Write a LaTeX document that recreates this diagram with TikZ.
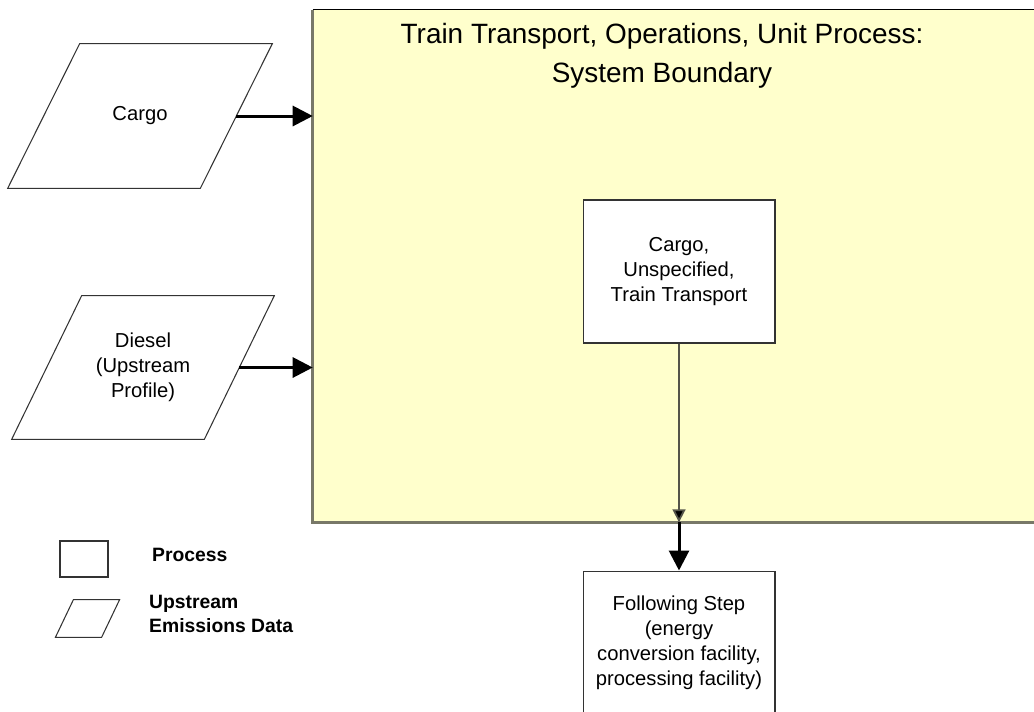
\documentclass[tikz,border=0pt]{standalone}
\usepackage{fontspec}
\setmainfont{Liberation Sans}
\usepackage{tikz}
\usetikzlibrary{arrows.meta}

\definecolor{boundfill}{RGB}{255,255,204}
\definecolor{boundedge}{RGB}{120,120,104}

\begin{document}
\begin{tikzpicture}[x=0.02cm,y=-0.02cm]
        \tikzstyle{every node} = [font=\fontsize{11.5}{14.2}\selectfont, align=center]
        \tikzstyle{proc} = [rectangle, draw=black!80, fill=white, line width=0.6pt,
                            inner sep=0pt, minimum width=3.84cm, minimum height=2.86cm]
        % upstream data: the node is the midline box, the slanted outline is drawn below
        \tikzstyle{upstream} = [rectangle, inner sep=0pt, minimum width=3.84cm, minimum height=2.88cm]
        \tikzstyle{outline} = [draw=black!80, line width=0.6pt, line join=miter]
        \tikzstyle{flow} = [line width=1.7pt, -{Triangle[length=0.4cm,width=0.4cm]}]
        \tikzstyle{legendtext} = [font=\bfseries\fontsize{11}{13.5}\selectfont, align=left, anchor=west]

        \useasboundingbox (0,0) rectangle (1034,711);
        \clip (0,0) rectangle (1034,711);

        % system boundary
        \node[rectangle, fill=boundfill, inner sep=0pt, minimum width=14.74cm, minimum height=10.24cm]
            (boundary) at (681.5,266) {};
        \draw[black, line width=0.8pt] (boundary.north west) -- (boundary.north east);
        \draw[boundedge, line width=1.6pt] (boundary.north west) -- (boundary.south west) -- (boundary.south east);
        \node[font=\fontsize{15.9}{22.2}\selectfont, inner sep=0pt] (title) at (662,56)
            {Train Transport, Operations, Unit Process:\\System Boundary};

        % inputs
        \node[upstream] (cargo) at (140,116) {Cargo};
        \node[upstream, minimum height=2.86cm] (diesel) at (143,367.5) {Diesel\\(Upstream\\Profile)};

        % processes
        \node[proc] (train) at (679,271.5) {Cargo,\\Unspecified,\\Train Transport};
        \node[proc] (next) at (679,642.5) {Following Step\\(energy\\conversion facility,\\processing facility)};
        \coordinate (exit) at (train.south |- boundary.south);

        % legend
        \node[proc, minimum width=0.96cm, minimum height=0.72cm] (legproc) at (84,559) {};
        \node[legendtext] (legproctext) at (146,555) {Process};
        \node[upstream, minimum width=0.91cm, minimum height=0.74cm] (legup) at (87.5,618.5) {};
        \node[legendtext] (leguptext) at (143,614) {Upstream\\Emissions Data};

        \foreach \n/\s in {cargo/0.72cm, diesel/0.70cm, legup/0.18cm}
            \draw[outline] ([xshift=\s]\n.north west) -- ([xshift=\s]\n.north east)
                -- ([xshift=-\s]\n.south east) -- ([xshift=-\s]\n.south west) -- cycle;

        \foreach \from in {cargo, diesel}
            \draw[flow] (\from.east) -- (\from.east -| boundary.west);
        \draw[boundedge!70!black, line width=1pt, -{Triangle[length=0.26cm,width=0.26cm,fill=black]}] (train.south) -- (exit);
        \draw[flow] (exit) -- (next.north);
      \end{tikzpicture}
\end{document}
